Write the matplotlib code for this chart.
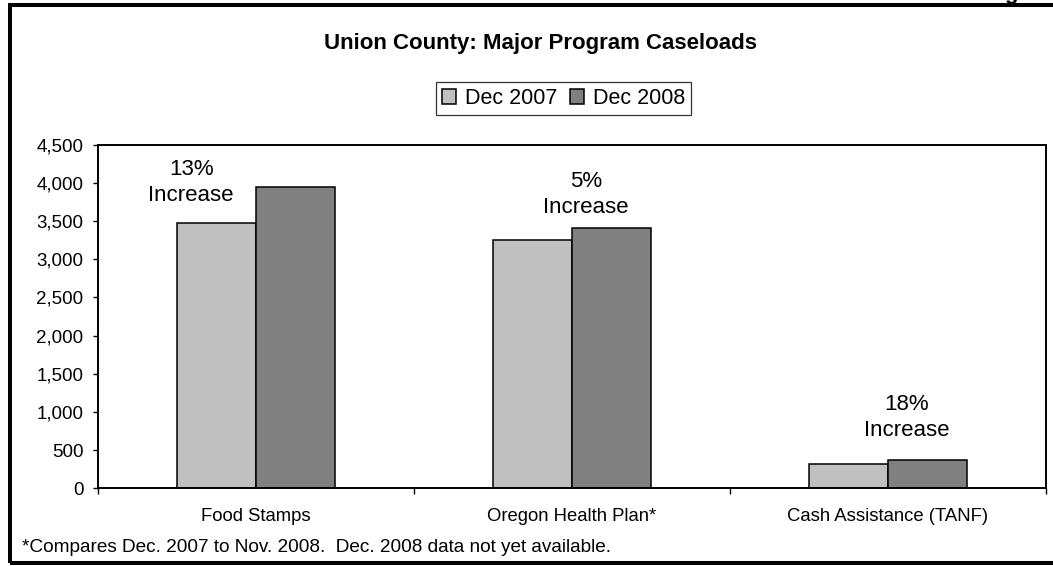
import numpy as np
import matplotlib
matplotlib.use("Agg")
import matplotlib.pyplot as plt
from matplotlib.patches import Rectangle
from matplotlib.ticker import StrMethodFormatter, FixedLocator

plt.rcParams['font.family'] = ['Liberation Sans', 'DejaVu Sans']

categories = ['Food Stamps', 'Oregon Health Plan*', 'Cash Assistance (TANF)']
series_names = ['Dec 2007', 'Dec 2008']
dec_2007 = [3479, 3252, 314]
dec_2008 = [3943, 3414, 371]
notes = ['13%\nIncrease', '5%\nIncrease', '18%\nIncrease']
y_ticks = [0, 500, 1000, 1500, 2000, 2500, 3000, 3500, 4000, 4500]

W, H = 1053, 566
fig = plt.figure(figsize=(W / 100, H / 100), dpi=100)

# plot area in pixels: x 98..1045, y 145..488
ax = fig.add_axes([98 / W, 1 - 488.3 / H, 947.5 / W, 343.6 / H])

x = np.arange(len(categories))
bw = 0.25
ax.bar(x - bw / 2, dec_2007, bw, color='#c0c0c0', edgecolor='black',
       linewidth=1.1, label=series_names[0])
ax.bar(x + bw / 2, dec_2008, bw, color='#808080', edgecolor='black',
       linewidth=1.1, label=series_names[1])

ax.set_xlim(-0.5, len(categories) - 0.5)
ax.set_ylim(0, 4500)
ax.set_yticks(y_ticks)
ax.yaxis.set_major_formatter(StrMethodFormatter('{x:,.0f}'))

ax.set_xticks(x)
ax.set_xticklabels(categories)
ax.xaxis.set_minor_locator(FixedLocator(np.arange(len(categories) + 1) - 0.5))
ax.tick_params(axis='x', which='major', length=0, pad=14, labelsize=13.3)
ax.tick_params(axis='x', which='minor', length=4.5, width=1, direction='out')
ax.tick_params(axis='y', length=3.5, width=1, pad=7, labelsize=13.5)

for s in ax.spines.values():
    s.set_linewidth(1.4)
    s.set_color('black')

# percentage notes
note_x = [-0.205, 1.045, 2.06]
note_y = [4000, 3850, 925]
for nx, ny, t in zip(note_x, note_y, notes):
    ax.text(nx, ny, t, ha='center', va='center', fontsize=16, linespacing=1.3)

fig.text(540 / W, 1 - 43 / H, 'Union County: Major Program Caseloads',
         ha='center', va='center', fontsize=16, fontweight='bold')

leg = fig.legend(loc='center', bbox_to_anchor=(563.5 / W, 1 - 98.5 / H),
                 ncol=2, fontsize=15.5, frameon=True, fancybox=False,
                 handlelength=0.65, handleheight=0.65, handletextpad=0.42,
                 columnspacing=0.56, borderpad=0.3, borderaxespad=0)
leg.get_frame().set_edgecolor('black')
leg.get_frame().set_linewidth(0.9)

fig.text(22 / W, 1 - 548 / H,
         '*Compares Dec. 2007 to Nov. 2008.  Dec. 2008 data not yet available.',
         ha='left', va='center', fontsize=13.7)

# outer frame of the chart, right edge runs off the page
fig.add_artist(Rectangle((10 / W, 1 - 563 / H), 1.05, 558 / H,
                         transform=fig.transFigure, fill=False,
                         edgecolor='black', linewidth=2.9, clip_on=False))

# tail of a cut-off letter at the top edge
fig.text(1011 / W, 1 - 3.5 / H, 'g', ha='center', va='bottom',
         fontsize=16, fontweight='bold')

fig.savefig('out.png', dpi=100)
